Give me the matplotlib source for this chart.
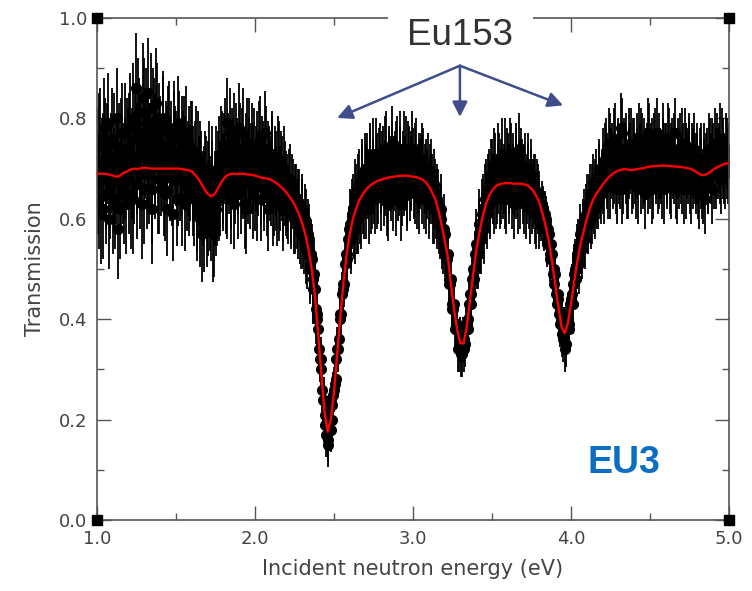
import numpy as np
import matplotlib
matplotlib.use("Agg")
import matplotlib.pyplot as plt

# measured transmission, run A: 0.01 eV steps from 1.00 to 5.00 eV
energy_a = np.round(1.0 + 0.01 * np.arange(401), 3)
transmission_a = [
    0.72, 0.64, 0.76, 0.70, 0.62, 0.74, 0.68, 0.79, 0.66, 0.71, 0.63, 0.75, 0.69, 0.58, 0.73, 0.67, 0.77, 0.65, 0.70, 0.74,
    0.68, 0.78, 0.71, 0.64, 0.76, 0.72, 0.81, 0.69, 0.75, 0.84, 0.66, 0.79, 0.73, 0.70, 0.82, 0.62, 0.77, 0.74, 0.80, 0.68,
    0.75, 0.71, 0.79, 0.65, 0.73, 0.77, 0.69, 0.74, 0.61, 0.78, 0.72, 0.68, 0.76, 0.70, 0.64, 0.75, 0.71, 0.67, 0.73, 0.69,
    0.74, 0.66, 0.70, 0.63, 0.72, 0.60, 0.68, 0.64, 0.59, 0.67, 0.62, 0.70, 0.61, 0.66, 0.58, 0.69, 0.64, 0.71, 0.66, 0.72,
    0.68, 0.75, 0.65, 0.72, 0.77, 0.67, 0.71, 0.63, 0.74, 0.70, 0.78, 0.66, 0.73, 0.69, 0.62, 0.75, 0.71, 0.67, 0.74, 0.70,
    0.66, 0.73, 0.69, 0.76, 0.64, 0.71, 0.68, 0.74, 0.62, 0.70, 0.67, 0.72, 0.65, 0.69, 0.63, 0.71, 0.66, 0.68, 0.64, 0.67,
    0.66, 0.62, 0.68, 0.61, 0.65, 0.60, 0.64, 0.59, 0.63, 0.57, 0.61, 0.56, 0.59, 0.53, 0.56, 0.50, 0.52, 0.46, 0.46, 0.40,
    0.38, 0.32, 0.30, 0.24, 0.21, 0.17, 0.15, 0.19, 0.18, 0.23, 0.26, 0.28, 0.34, 0.36, 0.41, 0.45, 0.46, 0.51, 0.52, 0.56,
    0.59, 0.56, 0.62, 0.58, 0.64, 0.60, 0.67, 0.61, 0.69, 0.63, 0.68, 0.70, 0.62, 0.71, 0.65, 0.73, 0.64, 0.70, 0.66, 0.72,
    0.65, 0.71, 0.68, 0.74, 0.63, 0.70, 0.67, 0.72, 0.69, 0.64, 0.73, 0.68, 0.71, 0.66, 0.74, 0.69, 0.65, 0.72, 0.67, 0.70,
    0.71, 0.66, 0.73, 0.68, 0.64, 0.70, 0.72, 0.65, 0.69, 0.67, 0.63, 0.68, 0.66, 0.62, 0.65, 0.61, 0.63, 0.59, 0.60, 0.56,
    0.57, 0.52, 0.53, 0.48, 0.48, 0.43, 0.43, 0.38, 0.39, 0.34, 0.36, 0.33, 0.36, 0.35, 0.39, 0.40, 0.45, 0.45, 0.50, 0.50,
    0.55, 0.53, 0.59, 0.56, 0.62, 0.58, 0.65, 0.61, 0.67, 0.63, 0.69, 0.64, 0.70, 0.66, 0.72, 0.65, 0.69, 0.67, 0.73, 0.64,
    0.70, 0.66, 0.72, 0.68, 0.63, 0.71, 0.67, 0.74, 0.65, 0.69, 0.64, 0.70, 0.66, 0.68, 0.62, 0.69, 0.65, 0.66, 0.61, 0.64,
    0.65, 0.60, 0.62, 0.58, 0.60, 0.55, 0.57, 0.52, 0.53, 0.47, 0.49, 0.43, 0.44, 0.39, 0.40, 0.36, 0.38, 0.35, 0.40, 0.39,
    0.44, 0.43, 0.49, 0.48, 0.53, 0.51, 0.57, 0.54, 0.60, 0.56, 0.63, 0.59, 0.65, 0.61, 0.67, 0.62, 0.68, 0.64, 0.70, 0.65,
    0.71, 0.66, 0.73, 0.69, 0.75, 0.67, 0.72, 0.70, 0.76, 0.66, 0.73, 0.69, 0.77, 0.68, 0.72, 0.74, 0.67, 0.71, 0.75, 0.69,
    0.73, 0.67, 0.71, 0.76, 0.68, 0.74, 0.70, 0.65, 0.72, 0.77, 0.69, 0.73, 0.67, 0.75, 0.71, 0.68, 0.74, 0.70, 0.76, 0.66,
    0.72, 0.69, 0.75, 0.67, 0.73, 0.70, 0.77, 0.66, 0.71, 0.74, 0.68, 0.72, 0.75, 0.67, 0.70, 0.73, 0.66, 0.71, 0.74, 0.68,
    0.70, 0.65, 0.72, 0.67, 0.69, 0.64, 0.71, 0.68, 0.73, 0.66, 0.72, 0.75, 0.69, 0.71, 0.76, 0.68, 0.73, 0.70, 0.74, 0.71,
    0.72,
]
# run B: 0.01 eV steps from 1.005 to 4.995 eV
energy_b = np.round(1.005 + 0.01 * np.arange(400), 3)
transmission_b = [
    0.67, 0.75, 0.61, 0.71, 0.78, 0.65, 0.73, 0.60, 0.70, 0.76, 0.68, 0.64, 0.80, 0.71, 0.62, 0.74, 0.69, 0.77, 0.63, 0.72,
    0.74, 0.65, 0.80, 0.70, 0.86, 0.67, 0.77, 0.73, 0.63, 0.81, 0.75, 0.69, 0.85, 0.72, 0.66, 0.79, 0.71, 0.83, 0.68, 0.76,
    0.70, 0.80, 0.66, 0.74, 0.62, 0.78, 0.71, 0.68, 0.76, 0.73, 0.64, 0.79, 0.69, 0.75, 0.72, 0.63, 0.77, 0.70, 0.66, 0.74,
    0.69, 0.64, 0.73, 0.61, 0.67, 0.70, 0.57, 0.65, 0.68, 0.60, 0.66, 0.63, 0.69, 0.57, 0.64, 0.62, 0.68, 0.65, 0.73, 0.67,
    0.72, 0.66, 0.79, 0.70, 0.64, 0.73, 0.76, 0.68, 0.71, 0.65, 0.74, 0.69, 0.77, 0.63, 0.72, 0.68, 0.75, 0.70, 0.65, 0.73,
    0.70, 0.64, 0.75, 0.67, 0.72, 0.66, 0.77, 0.65, 0.71, 0.68, 0.73, 0.63, 0.70, 0.66, 0.72, 0.64, 0.69, 0.62, 0.70, 0.65,
    0.63, 0.67, 0.62, 0.66, 0.60, 0.64, 0.61, 0.63, 0.58, 0.62, 0.57, 0.60, 0.54, 0.57, 0.51, 0.53, 0.48, 0.49, 0.42, 0.41,
    0.34, 0.32, 0.26, 0.24, 0.19, 0.19, 0.16, 0.20, 0.20, 0.25, 0.27, 0.32, 0.34, 0.40, 0.41, 0.47, 0.47, 0.53, 0.53, 0.58,
    0.57, 0.61, 0.59, 0.65, 0.60, 0.66, 0.62, 0.68, 0.64, 0.70, 0.63, 0.67, 0.72, 0.64, 0.69, 0.66, 0.73, 0.65, 0.71, 0.68,
    0.70, 0.66, 0.73, 0.64, 0.71, 0.69, 0.75, 0.65, 0.70, 0.72, 0.67, 0.74, 0.63, 0.70, 0.68, 0.73, 0.66, 0.71, 0.69, 0.74,
    0.67, 0.72, 0.65, 0.70, 0.69, 0.66, 0.71, 0.68, 0.64, 0.70, 0.66, 0.69, 0.62, 0.67, 0.63, 0.64, 0.60, 0.62, 0.57, 0.58,
    0.53, 0.52, 0.47, 0.47, 0.42, 0.42, 0.38, 0.38, 0.34, 0.36, 0.33, 0.36, 0.34, 0.39, 0.38, 0.43, 0.43, 0.48, 0.48, 0.53,
    0.53, 0.57, 0.56, 0.61, 0.59, 0.64, 0.62, 0.66, 0.64, 0.69, 0.66, 0.71, 0.65, 0.68, 0.70, 0.66, 0.73, 0.68, 0.65, 0.71,
    0.68, 0.73, 0.65, 0.70, 0.67, 0.72, 0.64, 0.69, 0.71, 0.66, 0.68, 0.63, 0.70, 0.65, 0.67, 0.64, 0.66, 0.62, 0.65, 0.61,
    0.61, 0.63, 0.59, 0.61, 0.56, 0.58, 0.53, 0.55, 0.49, 0.50, 0.45, 0.45, 0.41, 0.41, 0.37, 0.38, 0.34, 0.39, 0.38, 0.43,
    0.45, 0.47, 0.50, 0.52, 0.54, 0.55, 0.55, 0.58, 0.57, 0.61, 0.59, 0.63, 0.60, 0.65, 0.63, 0.66, 0.64, 0.69, 0.66, 0.68,
    0.68, 0.72, 0.70, 0.67, 0.74, 0.71, 0.69, 0.75, 0.68, 0.72, 0.70, 0.78, 0.66, 0.73, 0.70, 0.67, 0.75, 0.72, 0.68, 0.73,
    0.70, 0.74, 0.66, 0.72, 0.75, 0.69, 0.73, 0.71, 0.68, 0.76, 0.72, 0.66, 0.74, 0.70, 0.77, 0.69, 0.71, 0.67, 0.73, 0.72,
    0.70, 0.76, 0.68, 0.72, 0.71, 0.74, 0.67, 0.73, 0.69, 0.70, 0.75, 0.66, 0.72, 0.71, 0.74, 0.68, 0.72, 0.69, 0.70, 0.72,
    0.67, 0.71, 0.69, 0.66, 0.72, 0.70, 0.68, 0.74, 0.70, 0.73, 0.69, 0.71, 0.74, 0.72, 0.70, 0.75, 0.71, 0.69, 0.73, 0.70,
]
# uncertainty per 0.2 eV block
block_error = [0.10, 0.11, 0.095, 0.095, 0.09, 0.085, 0.07, 0.045, 0.07, 0.075,
               0.07, 0.045, 0.07, 0.07, 0.045, 0.06, 0.07, 0.07, 0.07, 0.07]

# fitted transmission (Eu153 resonances), 0.02 eV steps
fit_energy = np.round(1.0 + 0.02 * np.arange(201), 2)
fit_transmission = [
    0.690, 0.690, 0.690, 0.689, 0.688, 0.686, 0.684, 0.685, 0.690, 0.693,
    0.696, 0.699, 0.700, 0.699, 0.701, 0.702, 0.701, 0.700, 0.700, 0.700,
    0.700, 0.700, 0.700, 0.700, 0.700, 0.700, 0.700, 0.699, 0.698, 0.697,
    0.694, 0.688, 0.680, 0.670, 0.659, 0.650, 0.645, 0.648, 0.657, 0.669,
    0.679, 0.686, 0.689, 0.690, 0.689, 0.690, 0.690, 0.689, 0.688, 0.688,
    0.686, 0.684, 0.682, 0.681, 0.680, 0.678, 0.674, 0.670, 0.665, 0.659,
    0.652, 0.643, 0.634, 0.622, 0.608, 0.590, 0.567, 0.537, 0.497, 0.445,
    0.370, 0.290, 0.215, 0.176, 0.200, 0.255, 0.330, 0.405, 0.472, 0.530,
    0.570, 0.600, 0.620, 0.637, 0.648, 0.657, 0.664, 0.669, 0.673, 0.676,
    0.678, 0.680, 0.682, 0.683, 0.684, 0.685, 0.686, 0.686, 0.686, 0.685,
    0.684, 0.683, 0.681, 0.678, 0.673, 0.665, 0.653, 0.640, 0.618, 0.590,
    0.558, 0.525, 0.470, 0.420, 0.378, 0.352, 0.352, 0.385, 0.435, 0.488,
    0.535, 0.572, 0.603, 0.628, 0.645, 0.656, 0.664, 0.668, 0.670, 0.671,
    0.671, 0.671, 0.670, 0.670, 0.670, 0.669, 0.667, 0.663, 0.656, 0.646,
    0.632, 0.610, 0.585, 0.555, 0.515, 0.470, 0.425, 0.385, 0.372, 0.392,
    0.430, 0.475, 0.515, 0.550, 0.575, 0.600, 0.622, 0.638, 0.650, 0.658,
    0.668, 0.676, 0.683, 0.689, 0.693, 0.696, 0.698, 0.699, 0.698, 0.697,
    0.698, 0.699, 0.700, 0.701, 0.703, 0.704, 0.705, 0.705, 0.706, 0.706,
    0.706, 0.705, 0.705, 0.704, 0.704, 0.703, 0.702, 0.701, 0.699, 0.696,
    0.692, 0.688, 0.687, 0.689, 0.693, 0.698, 0.702, 0.705, 0.708, 0.710,
    0.711,
]

x_ticks = [1.0, 2.0, 3.0, 4.0, 5.0]
y_ticks = [0.0, 0.2, 0.4, 0.6, 0.8, 1.0]

# merge both runs, each point gets the uncertainty of its 0.2 eV block
energy = np.concatenate([energy_a, energy_b])
transmission = np.concatenate([transmission_a, transmission_b])
block = np.minimum(((energy - 1.0) * 100 + 1e-6).astype(int) // 20, len(block_error) - 1)
errors = np.array(block_error)[block]
order = np.argsort(energy)

fig = plt.figure(figsize=(7.52, 5.91), dpi=100)
ax = fig.add_axes([0.129, 0.1201, 0.8404, 0.8494])

ax.errorbar(energy[order], transmission[order], yerr=errors[order], fmt='o',
            color='black', ecolor='black', elinewidth=1.3, markersize=7,
            capsize=0, zorder=2)
ax.plot(fit_energy, fit_transmission, color='#ff0000', linewidth=1.7, zorder=3)

ax.set_xlim(1.0, 5.0)
ax.set_ylim(0.0, 1.0)
ax.set_xticks(x_ticks)
ax.set_xticklabels([f"{v:.1f}" for v in x_ticks])
ax.set_xticks(np.arange(1.5, 5.0, 1.0), minor=True)
ax.set_yticks(y_ticks)
ax.set_yticklabels([f"{v:.1f}" for v in y_ticks])
ax.set_yticks(np.arange(0.1, 1.0, 0.2), minor=True)

grey = '#555555'
for s in ax.spines.values():
    s.set_color(grey)
    s.set_linewidth(1.2)
ax.tick_params(which='both', direction='in', top=True, right=True, color=grey, width=1.0)
ax.tick_params(which='major', length=10, labelsize=13, labelcolor='#444444', pad=7)
ax.tick_params(which='minor', length=5)

ax.set_xlabel("Incident neutron energy (eV)", fontsize=15, color='#444444', labelpad=8)
ax.set_ylabel("Transmission", fontsize=15, color='#444444', labelpad=10)

# corner markers
ax.plot([1.0, 1.0, 5.0, 5.0], [0.0, 1.0, 0.0, 1.0], 's', color='black',
        markersize=7, clip_on=False, zorder=6)

# resonance label with arrows
ax.text(3.30, 0.966, "Eu153", ha='center', va='center', fontsize=26.5,
        family='Liberation Sans', color='#333333', zorder=7,
        bbox=dict(facecolor='white', edgecolor='none', pad=14), clip_on=False)
arrow_color = '#404d8c'
for tx, ty in [(2.52, 0.801), (3.297, 0.803), (3.95, 0.826)]:
    ax.annotate("", xy=(tx, ty), xytext=(3.297, 0.905),
                arrowprops=dict(arrowstyle='-|>,head_length=0.9,head_width=0.45',
                                color=arrow_color, lw=1.8, shrinkA=0, shrinkB=0),
                zorder=7)

ax.text(4.332, 0.1145, "EU3", ha='center', va='center', fontsize=27,
        fontweight='bold', family='Liberation Sans', color='#0a6fc2', zorder=7)

fig.savefig("out.png", dpi=100)
